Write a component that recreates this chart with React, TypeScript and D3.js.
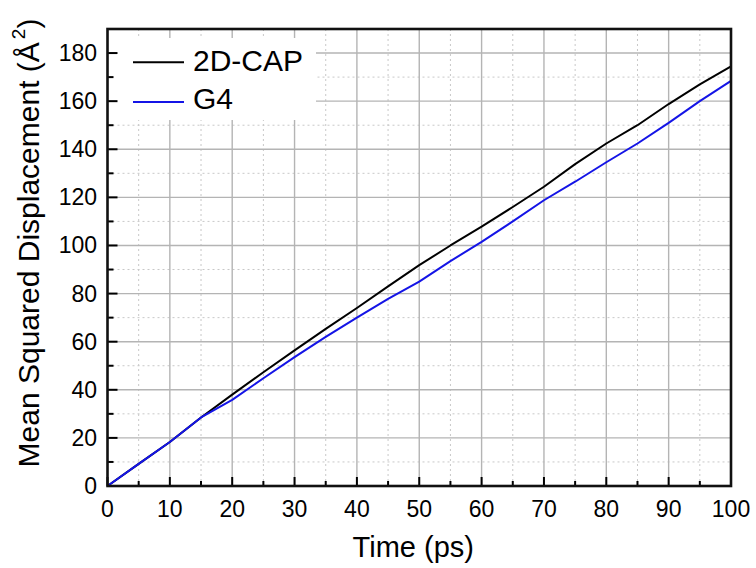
import { useEffect, useRef } from "react";
import * as d3 from "d3";

// time in ps, MSD in Å^2
const times = [0, 5, 10, 15, 20, 25, 30, 35, 40, 45, 50, 55, 60, 65, 70, 75, 80, 85, 90, 95, 100];
const cap2d = [0, 9.2, 18.3, 28.5, 38, 47.3, 56.4, 65.3, 74, 83, 91.8, 100, 107.8, 116, 124.4, 133.8, 142.4, 150, 158.8, 167, 174.5];
const g4 = [0, 9.2, 18.3, 28.5, 35.8, 44.8, 53.6, 62, 70, 77.8, 85, 93.5, 101.5, 110, 118.8, 126.5, 134.6, 142.4, 151, 160, 168.4];
const seriesNames = ["2D-CAP", "G4"];
const seriesColors = ["#000000", "#1414e6"];
const xTicks = [0, 10, 20, 30, 40, 50, 60, 70, 80, 90, 100];
const yTicks = [0, 20, 40, 60, 80, 100, 120, 140, 160, 180];

const W = 756;
const H = 568;
const M = { left: 107.5, right: 25, top: 29, bottom: 82 };
const FONT = "'Liberation Sans', Arial, sans-serif";

export default function App() {
  const ref = useRef<SVGSVGElement | null>(null);

  useEffect(() => {
    const svg = d3.select(ref.current);
    svg.selectAll("*").remove();

    const x = d3.scaleLinear().domain([0, 100]).range([M.left, W - M.right]);
    const y = d3.scaleLinear().domain([0, 190]).range([H - M.bottom, M.top]);
    const x0 = x(0), x1 = x(100), y0 = y(0), y1 = y(190);

    svg.append("rect").attr("width", W).attr("height", H).attr("fill", "#fff");

    const minorX = d3.range(5, 100, 10);
    const minorY = d3.range(10, 190, 20);

    // minor grid (dotted)
    svg.selectAll("line.gx-minor").data(minorX).join("line")
      .attr("x1", (d) => x(d)).attr("x2", (d) => x(d)).attr("y1", y0).attr("y2", y1)
      .attr("stroke", "#c8c8c8").attr("stroke-width", 1).attr("stroke-dasharray", "2,3");
    svg.selectAll("line.gy-minor").data(minorY).join("line")
      .attr("x1", x0).attr("x2", x1).attr("y1", (d) => y(d)).attr("y2", (d) => y(d))
      .attr("stroke", "#c8c8c8").attr("stroke-width", 1).attr("stroke-dasharray", "2,3");

    // major grid
    svg.selectAll("line.gx").data(xTicks.slice(1, -1)).join("line")
      .attr("x1", (d) => x(d)).attr("x2", (d) => x(d)).attr("y1", y0).attr("y2", y1)
      .attr("stroke", "#b4b4b4").attr("stroke-width", 1.4);
    svg.selectAll("line.gy").data(yTicks.slice(1)).join("line")
      .attr("x1", x0).attr("x2", x1).attr("y1", (d) => y(d)).attr("y2", (d) => y(d))
      .attr("stroke", "#b4b4b4").attr("stroke-width", 1.4);

    // legend box hides the grid
    svg.append("rect").attr("x", x0).attr("y", 38).attr("width", 316 - x0).attr("height", 82).attr("fill", "#fff");

    // lines (G4 on top, it covers 2D-CAP near the origin)
    const data = [cap2d, g4];
    const line = d3.line<number>().x((_, i) => x(times[i])).y((v) => y(v));
    [0, 1].forEach((s) => {
      svg.append("path")
        .attr("d", line(data[s]) as string)
        .attr("fill", "none")
        .attr("stroke", seriesColors[s])
        .attr("stroke-width", 2)
        .attr("stroke-linejoin", "round");
    });

    // ticks, pointing inward
    svg.selectAll("line.tx").data(d3.range(0, 101, 5)).join("line")
      .attr("x1", (d) => x(d)).attr("x2", (d) => x(d))
      .attr("y1", y0).attr("y2", (d) => y0 - (d % 10 === 0 ? 9 : 5))
      .attr("stroke", "#000").attr("stroke-width", 2);
    svg.selectAll("line.ty").data(d3.range(0, 181, 10)).join("line")
      .attr("y1", (d) => y(d)).attr("y2", (d) => y(d))
      .attr("x1", x0).attr("x2", (d) => x0 + (d % 20 === 0 ? 10 : 6))
      .attr("stroke", "#000").attr("stroke-width", 2);

    // frame
    svg.append("rect").attr("x", x0).attr("y", y1).attr("width", x1 - x0).attr("height", y0 - y1)
      .attr("fill", "none").attr("stroke", "#111").attr("stroke-width", 2.6);

    // tick labels
    svg.selectAll("text.xl").data(xTicks).join("text")
      .attr("x", (d) => x(d)).attr("y", 516.5)
      .attr("text-anchor", "middle").attr("font-family", FONT).attr("font-size", 23).attr("fill", "#000")
      .text((d) => d);
    svg.selectAll("text.yl").data(yTicks).join("text")
      .attr("x", 97).attr("y", (d) => y(d) + 8)
      .attr("text-anchor", "end").attr("font-family", FONT).attr("font-size", 23).attr("fill", "#000")
      .text((d) => d);

    // axis titles
    svg.append("text").attr("x", (x0 + x1) / 2 - 6).attr("y", 557)
      .attr("text-anchor", "middle").attr("font-family", FONT).attr("font-size", 29).attr("fill", "#000")
      .text("Time (ps)");
    const yt = svg.append("text").attr("transform", "translate(39,243) rotate(-90)")
      .attr("text-anchor", "middle").attr("font-family", FONT).attr("font-size", 30).attr("fill", "#000");
    yt.append("tspan").text("Mean Squared Displacement (Å");
    yt.append("tspan").attr("font-size", 19).attr("dx", 3).attr("dy", -14).text("2");
    yt.append("tspan").attr("dy", 14).text(")");

    // legend
    const legendY = [62.3, 102];
    const textY = [70.5, 108.5];
    seriesNames.forEach((name, i) => {
      svg.append("line").attr("x1", 133).attr("x2", 184).attr("y1", legendY[i]).attr("y2", legendY[i])
        .attr("stroke", seriesColors[i]).attr("stroke-width", 2);
      svg.append("text").attr("x", 193).attr("y", textY[i])
        .attr("font-family", FONT).attr("font-size", 30).attr("fill", "#000").text(name);
    });
  }, []);

  return (
    <div style={{ position: "absolute", left: 0, top: 0 }}>
      <svg ref={ref} width={W} height={H} style={{ display: "block" }} />
    </div>
  );
}
